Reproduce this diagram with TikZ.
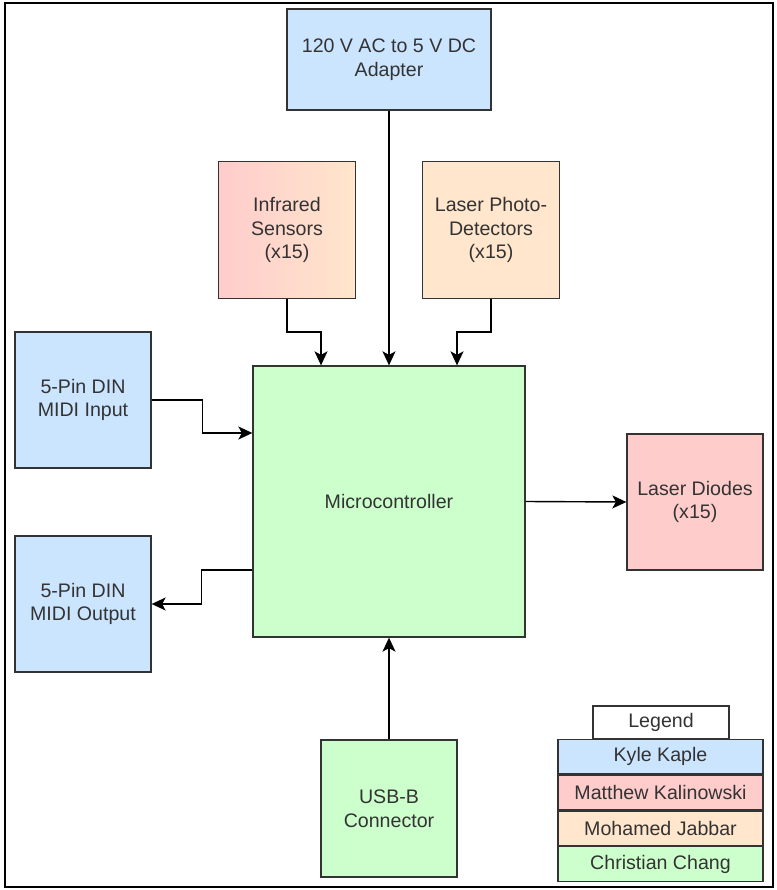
\documentclass[tikz,border=0pt]{standalone}
\usepackage{fontspec}
\setmainfont{Liberation Sans}
\usetikzlibrary{arrows.meta,calc}

\definecolor{kblue}{HTML}{CCE5FF}
\definecolor{mpink}{HTML}{FFCCCC}
\definecolor{jpeach}{HTML}{FFE6CC}
\definecolor{cgreen}{HTML}{CCFFCC}
\definecolor{edgegray}{HTML}{333333}
\definecolor{textgray}{HTML}{333333}

\tikzset{
  blk/.style={draw=edgegray, line width=1.3pt, rectangle, align=center,
    text=textgray, font=\fontsize{19.6}{23.5}\selectfont, inner sep=2pt},
  legrow/.style={blk, minimum width=205pt, minimum height=34.4pt},
  arr/.style={draw=black, line width=1.4pt,
    -{Stealth[length=14pt,width=13pt,inset=3.5pt]}},
}

\begin{document}
\begin{tikzpicture}[x=1pt,y=-1pt]
  \useasboundingbox (0,0) rectangle (776,890);
  % outer frame
  \draw[line width=2.6pt, black] (5,3) rectangle (773,887);

  % blocks
  \node[blk, fill=kblue, minimum width=204pt, minimum height=101pt] (adapter) at (389,59.5)
    {120 V AC to 5 V DC\\Adapter};
  \node[blk, left color=mpink, right color=jpeach, minimum width=137pt, minimum height=137pt] (ir) at (287,230)
    {Infrared\\Sensors\\(x15)};
  \node[blk, fill=jpeach, minimum width=137pt, minimum height=137pt] (pd) at (491,230)
    {Laser Photo-\\Detectors\\(x15)};
  \node[blk, fill=cgreen, minimum width=272pt, minimum height=271pt] (mcu) at (389,501.5)
    {Microcontroller};
  \node[blk, fill=kblue, minimum width=136pt, minimum height=136pt] (midiin) at (83,400)
    {5-Pin DIN\\MIDI Input};
  \node[blk, fill=kblue, minimum width=136pt, minimum height=136pt] (midiout) at (83,604)
    {5-Pin DIN\\MIDI Output};
  \node[blk, fill=mpink, minimum width=136pt, minimum height=136pt] (diodes) at (695,502)
    {Laser Diodes\\(x15)};
  \node[blk, fill=cgreen, minimum width=136pt, minimum height=137pt] (usb) at (389,808.5)
    {USB-B\\Connector};

  % connectors
  \draw[arr] (adapter) -- (mcu.north);
  \draw[arr] (ir.south) -- ++(0,33) -| ([xshift=-68pt]mcu.north);
  \draw[arr] (pd.south) -- ++(0,33) -| ([xshift=68pt]mcu.north);
  \draw[arr] (midiin.east) -- ++(51,0) |- ([yshift=68.5pt]mcu.west);
  \draw[arr] ([yshift=-68.5pt]mcu.west) -- ++(-51,0) |- (midiout.east);
  \draw[arr] (mcu.east) -- (diodes.west);
  \draw[arr] (usb.north) -- (mcu.south);

  % legend
  \node[blk, fill=white, minimum width=136pt, minimum height=33pt] (legtitle) at (661,722.5) {Legend};
  \node[legrow, fill=kblue, anchor=north] (leg1) at (660.5,739) {Kyle Kaple};
  \node[legrow, fill=mpink, anchor=north] (leg2) at (leg1.south) {Matthew Kalinowski};
  \node[legrow, fill=jpeach, anchor=north] (leg3) at (leg2.south) {Mohamed Jabbar};
  \node[legrow, fill=cgreen, anchor=north] (leg4) at (leg3.south) {Christian Chang};
\end{tikzpicture}
\end{document}
